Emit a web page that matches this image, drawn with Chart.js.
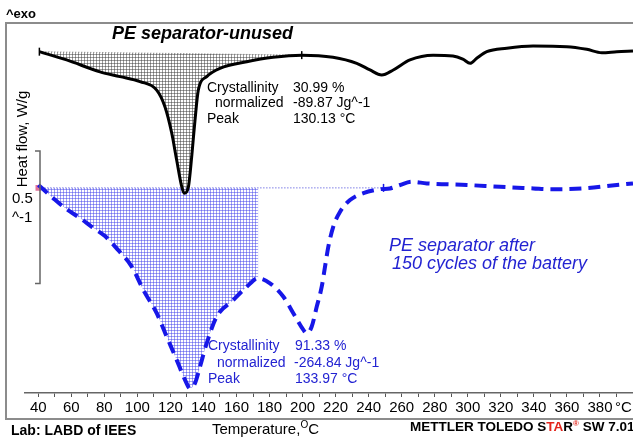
<!DOCTYPE html>
<html>
<head>
<meta charset="utf-8">
<script src="https://cdn.jsdelivr.net/npm/chart.js@4.4.1/dist/chart.umd.min.js"></script>
<style>
  html, body { margin: 0; padding: 0; background: #fff; }
  #wrap { position: relative; width: 633px; height: 440px; overflow: hidden;
          font-family: "Liberation Sans", Arial, sans-serif; color: #000; }
  #chart { position: absolute; left: 0; top: 0; }
  .t { position: absolute; white-space: pre; line-height: 1; }
  .blue { color: #2323d2; }
</style>
</head>
<body>
<div id="wrap">
  <canvas id="chart" width="633" height="440"></canvas>

  <div class="t" style="left:6px;top:7px;font-size:13px;font-weight:bold;">^exo</div>
  <div class="t" style="left:112px;top:24px;font-size:18px;font-weight:bold;font-style:italic;">PE separator-unused</div>

  <div class="t" style="left:207px;top:80px;font-size:14px;">Crystallinity</div>
  <div class="t" style="left:215px;top:95px;font-size:14px;">normalized</div>
  <div class="t" style="left:207px;top:111px;font-size:14px;">Peak</div>
  <div class="t" style="left:293px;top:80px;font-size:14px;">30.99 %</div>
  <div class="t" style="left:293px;top:95px;font-size:14px;">-89.87 Jg^-1</div>
  <div class="t" style="left:293px;top:111px;font-size:14px;">130.13 °C</div>

  <div class="t blue" style="left:208px;top:338px;font-size:14px;">Crystallinity</div>
  <div class="t blue" style="left:217px;top:355px;font-size:14px;">normalized</div>
  <div class="t blue" style="left:208px;top:371px;font-size:14px;">Peak</div>
  <div class="t blue" style="left:295px;top:338px;font-size:14px;">91.33 %</div>
  <div class="t blue" style="left:294px;top:355px;font-size:14px;">-264.84 Jg^-1</div>
  <div class="t blue" style="left:295px;top:371px;font-size:14px;">133.97 °C</div>

  <div class="t blue" style="left:389px;top:236px;font-size:18px;font-style:italic;">PE separator after</div>
  <div class="t blue" style="left:392px;top:254px;font-size:18px;font-style:italic;">150 cycles of the battery</div>

  <div class="t" style="left:21px;top:139px;font-size:15px;transform:translate(-50%,-50%) rotate(-90deg);">Heat flow, W/g</div>
  <div class="t" style="left:12px;top:190px;font-size:15px;">0.5</div>
  <div class="t" style="left:12px;top:209px;font-size:15px;">^-1</div>

  <div class="t" style="left:615px;top:399px;font-size:15px;">°C</div>

  <div class="t" style="left:11px;top:423px;font-size:14px;font-weight:bold;">Lab: LABD of IEES</div>
  <div class="t" style="left:212px;top:421px;font-size:15px;">Temperature,<span style="font-size:10px;position:relative;top:-6px;">O</span>C</div>
  <div class="t" style="left:410px;top:420px;font-size:13.5px;font-weight:bold;">METTLER TOLEDO S<span style="color:#e3241b;">TA</span>R<span style="color:#e3241b;font-size:8px;position:relative;top:-5px;">®</span> SW 7.01</div>
</div>

<script>
// --- data (temperature in °C, heat flow in W/g, arbitrary offset) ---
const unusedTemp = [40.7, 57.2, 77.4, 89.5, 101.6, 111.7, 116.7, 120.8, 123.8, 126.9, 128.4, 130.9, 132.9, 134.9, 136.9, 142, 150, 166.2, 182.1, 199.5,
                    218.4, 232.8, 240.8, 247.9, 254.9, 265, 279, 291, 297, 301.4, 305.4, 311.5, 323.6, 339.5, 359.9, 372, 381.1, 390.2, 400];
const unusedFlow = [1.288, 1.257, 1.212, 1.194, 1.175, 1.143, 1.080, 0.981, 0.879, 0.778, 0.754, 0.778, 0.892, 1.030, 1.143, 1.194, 1.225, 1.250, 1.267, 1.275,
                    1.267, 1.244, 1.219, 1.200, 1.219, 1.257, 1.275, 1.272, 1.260, 1.244, 1.263, 1.288, 1.301, 1.309, 1.307, 1.297, 1.284, 1.288, 1.291];

const cycledTemp = [40.1, 48.9, 56.2, 65.3, 72.6, 80.4, 88.3, 96.6, 103.6, 111.7, 117.8, 123.8, 128.9, 131.9, 134.9, 137.9, 142, 148, 158.1, 166.2, 173.2,
                    180.3, 188.4, 194.4, 200.5, 202.5, 205.5, 208.6, 211.6, 213.6, 215.6, 218.6, 222.7, 228.7, 236.8, 246.9, 252.9, 259, 266.1, 275.2,
                    299.4, 319.5, 339.7, 349.8, 370, 390.2, 400];
const cycledFlow = [0.785, 0.736, 0.698, 0.660, 0.626, 0.592, 0.540, 0.477, 0.389, 0.301, 0.212, 0.125, 0.049, 0.018, 0.037, 0.099, 0.188, 0.288, 0.351, 0.401, 0.433,
                    0.414, 0.363, 0.301, 0.238, 0.225, 0.250, 0.326, 0.401, 0.477, 0.552, 0.628, 0.684, 0.728, 0.754, 0.769, 0.772, 0.785, 0.797, 0.791,
                    0.785, 0.778, 0.772, 0.769, 0.772, 0.785, 0.791];

// integration baselines (start / end of the melting peak)
const unusedBaseTemp = [40.7, 199.5];
const unusedBaseFlow = [1.288, 1.275];
const cycledBaseTemp = [40.1, 249];
const cycledBaseFlow = [0.774, 0.774];
const cycledFillEnd = 173.2;

const tickLabels = [40, 60, 80, 100, 120, 140, 160, 180, 200, 220, 240, 260, 280, 300, 320, 340, 360, 380];

// scale bar: 0.5 W/g
const scaleBarTop = 0.913;
const scaleBarSpan = 0.5;

// --- helpers ---
function toPoints(xs, ys) {
    return xs.map((x, i) => ({ x: x, y: ys[i] }));
}

function hatchPattern(color) {
    const c = document.createElement('canvas');
    c.width = 3; c.height = 3;
    const g = c.getContext('2d');
    g.fillStyle = color;
    g.fillRect(0, 0, 1, 3);
    g.fillRect(0, 0, 3, 1);
    return g.createPattern(c, 'repeat');
}

const unusedPts = toPoints(unusedTemp, unusedFlow);
const cycledPts = toPoints(cycledTemp, cycledFlow);
const unusedFillPts = unusedPts.filter(p => p.x <= unusedBaseTemp[1]);
const cycledFillPts = cycledPts.filter(p => p.x <= cycledFillEnd);

const minorTicks = [];
tickLabels.forEach(v => { minorTicks.push(v); minorTicks.push(v + 10); });

// frame, scale bar
const framePlugin = {
    id: 'frame',
    afterDraw(chart) {
        const ctx = chart.ctx;
        const y = chart.scales.y;
        ctx.save();
        ctx.strokeStyle = '#8c8c8c';
        ctx.lineWidth = 2;
        ctx.beginPath();
        ctx.moveTo(640, 23); ctx.lineTo(6, 23); ctx.lineTo(6, 419); ctx.lineTo(640, 419);
        ctx.stroke();

        const top = y.getPixelForValue(scaleBarTop);
        const bot = y.getPixelForValue(scaleBarTop - scaleBarSpan);
        ctx.strokeStyle = '#666';
        ctx.lineWidth = 1.5;
        ctx.beginPath();
        ctx.moveTo(35, top); ctx.lineTo(40, top); ctx.lineTo(40, bot); ctx.lineTo(35, bot);
        ctx.stroke();
        ctx.restore();
    }
};

const ctx = document.getElementById('chart').getContext('2d');
new Chart(ctx, {
    type: 'line',
    data: {
        datasets: [
            {   // unused separator
                data: unusedPts,
                borderColor: '#000',
                borderWidth: 3,
                pointRadius: 0,
                fill: false,
                cubicInterpolationMode: 'monotone'
            },
            {   // after 150 cycles
                data: cycledPts,
                borderColor: '#1717e8',
                borderWidth: 4,
                borderDash: [12, 7],
                pointRadius: 0,
                fill: false,
                cubicInterpolationMode: 'monotone'
            },
            {   // unused: integrated area
                data: unusedFillPts,
                borderWidth: 0,
                borderColor: 'rgba(0,0,0,0)',
                pointRadius: 0,
                backgroundColor: hatchPattern('rgba(60,60,60,0.5)'),
                fill: 3,
                cubicInterpolationMode: 'monotone'
            },
            {   // unused: baseline
                data: toPoints(unusedBaseTemp, unusedBaseFlow),
                borderColor: '#888',
                borderWidth: 1,
                borderDash: [1, 2],
                pointStyle: 'line',
                rotation: 90,
                pointRadius: 4,
                pointBorderColor: '#000',
                pointBorderWidth: 1.5,
                fill: false
            },
            {   // cycled: integrated area
                data: cycledFillPts,
                borderWidth: 0,
                borderColor: 'rgba(0,0,0,0)',
                pointRadius: 0,
                backgroundColor: hatchPattern('rgba(70,70,235,0.5)'),
                fill: { value: cycledBaseFlow[0] },
                cubicInterpolationMode: 'monotone'
            },
            {   // cycled: baseline
                data: toPoints(cycledBaseTemp, cycledBaseFlow),
                borderColor: '#3b3bd9',
                borderWidth: 1,
                borderDash: [1, 2],
                pointStyle: ['rect', 'line'],
                rotation: [0, 90],
                pointRadius: [3, 4],
                pointBackgroundColor: ['#e07098', '#1717e8'],
                pointBorderColor: ['#e07098', '#1717e8'],
                pointBorderWidth: 1.5,
                fill: false
            }
        ]
    },
    options: {
        responsive: false,
        animation: false,
        devicePixelRatio: 1,
        layout: { autoPadding: false, padding: { left: 25, right: 0, top: 22, bottom: 0 } },
        plugins: { legend: { display: false }, tooltip: { enabled: false } },
        scales: {
            x: {
                type: 'linear',
                min: 32,
                max: 400,
                border: { display: true, color: '#666', width: 1.5 },
                grid: { drawOnChartArea: false, drawTicks: true, tickLength: 4, tickColor: '#555', tickWidth: 1 },
                ticks: {
                    autoSkip: false,
                    maxRotation: 0,
                    padding: 2,
                    color: '#000',
                    font: { family: '"Liberation Sans", Arial, sans-serif', size: 15 },
                    callback: (v) => (tickLabels.includes(v) ? String(v) : '')
                },
                afterBuildTicks: (scale) => { scale.ticks = minorTicks.map(v => ({ value: v })); },
                afterFit: (scale) => { scale.height = 47; }
            },
            y: { display: false, min: 0, max: 1.4 }
        }
    },
    plugins: [framePlugin]
});
</script>
</body>
</html>
